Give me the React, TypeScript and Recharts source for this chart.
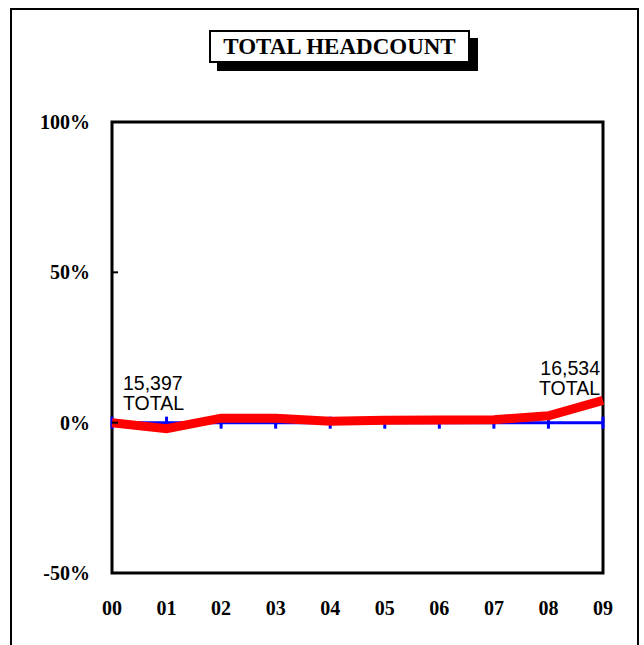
import React from 'react';
import { LineChart, Line, XAxis, YAxis, ReferenceLine, ReferenceArea } from 'recharts';

const years = ['00', '01', '02', '03', '04', '05', '06', '07', '08', '09'];
const pctChange = [0, -2, 1.5, 1.5, 0.5, 0.8, 0.9, 1, 2.3, 7.4];
const yTicks = [-50, 0, 50, 100];
const firstHeadcount = '15,397';
const lastHeadcount = '16,534';

const data = years.map((year, i) => ({ year, pct: pctChange[i] }));

const SERIF = "'Liberation Serif', 'Times New Roman', serif";
const SANS = "'Liberation Sans', Arial, sans-serif";

/* y tick: bold label plus a short inward tick mark */
const YTick = (props: any) => {
  const { x, y, payload } = props;
  return (
    <g>
      <text x={x} y={y} dy={7} textAnchor="end" fontFamily={SERIF} fontWeight="bold" fontSize={20} fill="#000">
        {payload.value}%
      </text>
      <line x1={x + 22} x2={x + 28} y1={y} y2={y} stroke="#000" strokeWidth={2} />
    </g>
  );
};

/* headcount notes at first and last point */
const EndLabel = (props: any) => {
  const { x, y, index } = props;
  if (index === 0) {
    return (
      <text x={x + 11} y={y} fontFamily={SANS} fontSize={19.5} fill="#000" textAnchor="start">
        <tspan x={x + 11} dy={-33}>{firstHeadcount}</tspan>
        <tspan x={x + 11} dy={20}>TOTAL</tspan>
      </text>
    );
  }
  if (index === years.length - 1) {
    return (
      <text x={x - 3} y={y} fontFamily={SANS} fontSize={19.5} fill="#000" textAnchor="end">
        <tspan x={x - 3} dy={-25}>{lastHeadcount}</tspan>
        <tspan x={x - 3} dy={20}>TOTAL</tspan>
      </text>
    );
  }
  return null;
};

export default function App() {
  return (
    <div style={{ position: 'absolute', left: 0, top: 0, width: 644, height: 645, overflow: 'hidden', background: '#fff' }}>
      {/* outer frame */}
      <div style={{ position: 'absolute', left: 10, top: 8, width: 629, height: 700, border: '2px solid #000', boxSizing: 'border-box' }} />

      <LineChart
        width={644}
        height={645}
        data={data}
        margin={{ top: 122, right: 41, bottom: 42, left: 52 }}
        style={{ position: 'absolute', left: 0, top: 0 }}
      >
        <XAxis
          dataKey="year"
          axisLine={false}
          tickLine={false}
          height={30}
          tickMargin={22}
          tick={{ fontFamily: SERIF, fontWeight: 'bold', fontSize: 20, fill: '#000' }}
        />
        <YAxis
          type="number"
          domain={[-50, 100]}
          ticks={yTicks}
          width={60}
          axisLine={false}
          tickLine={false}
          tickSize={0}
          tickMargin={22}
          tick={<YTick />}
        />
        <ReferenceArea x1="00" x2="09" y1={-50} y2={100} fill="none" stroke="#000" strokeWidth={3} />
        <ReferenceLine y={0} stroke="#0000FF" strokeWidth={3} />
        {years.map((c) => (
          <ReferenceLine
            key={c}
            segment={[{ x: c, y: -2 }, { x: c, y: 2 }]}
            stroke="#0000FF"
            strokeWidth={3}
          />
        ))}
        <Line
          type="linear"
          dataKey="pct"
          stroke="#FF0000"
          strokeWidth={9}
          dot={false}
          label={<EndLabel />}
          isAnimationActive={false}
        />
      </LineChart>

      {/* title box with shadow */}
      <div
        style={{
          position: 'absolute', left: 209, top: 30, width: 261, height: 33,
          border: '2px solid #000', boxSizing: 'border-box', background: '#fff',
          boxShadow: '8px 8px 0 #000',
          display: 'flex', alignItems: 'center', justifyContent: 'center',
          fontFamily: SERIF, fontWeight: 'bold', fontSize: 23, color: '#000',
          whiteSpace: 'nowrap',
        }}
      >
        TOTAL HEADCOUNT
      </div>
    </div>
  );
}
